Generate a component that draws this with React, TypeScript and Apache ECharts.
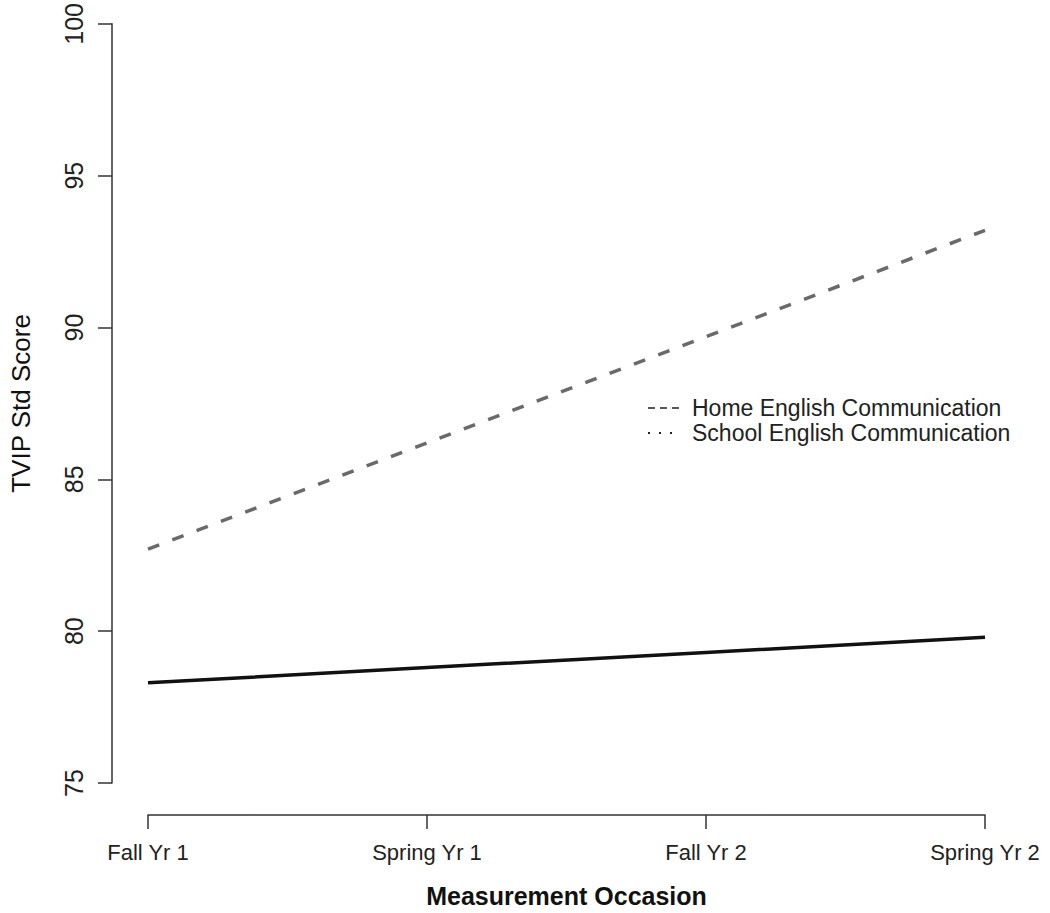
import React, { useEffect, useRef } from "react";
import * as echarts from "echarts";

const occasions = ["Fall Yr 1", "Spring Yr 1", "Fall Yr 2", "Spring Yr 2"];
const solidSeries = [78.3, 78.8, 79.3, 79.8];
const dashedSeries = [82.7, 86.2, 89.7, 93.2];
const legendLabels = ["Home English Communication", "School English Communication"];
const yTitle = "TVIP Std Score";
const xTitle = "Measurement Occasion";

export default function App() {
  const ref = useRef<HTMLDivElement>(null);
  useEffect(() => {
    if (!ref.current) return;
    const chart = echarts.init(ref.current, null, { renderer: "svg" });
    const font = "'Liberation Sans', Arial, Helvetica, sans-serif";
    chart.setOption({
      animation: false,
      backgroundColor: "#ffffff",
      textStyle: { fontFamily: font },
      grid: { left: 139, right: 65, top: 18, bottom: 128, containLabel: false },
      xAxis: {
        type: "category",
        data: occasions,
        boundaryGap: false,
        offset: 32,
        axisLine: { show: true, lineStyle: { color: "#333", width: 1.5 } },
        axisTick: { show: true, length: 14, alignWithLabel: true, lineStyle: { color: "#333", width: 1.5 } },
        axisLabel: { fontSize: 22, color: "#222", margin: 26, fontFamily: font },
        splitLine: { show: false },
        name: xTitle,
        nameLocation: "middle",
        nameGap: 68,
        nameTextStyle: { fontSize: 25, fontWeight: "bold", color: "#111", fontFamily: font },
      },
      yAxis: {
        type: "value",
        min: 75,
        max: 100,
        interval: 5,
        offset: 36,
        axisLine: { show: true, lineStyle: { color: "#333", width: 1.5 } },
        axisTick: { show: true, length: 14, lineStyle: { color: "#333", width: 1.5 } },
        axisLabel: { fontSize: 25, color: "#222", rotate: 90, margin: 26, fontFamily: font },
        splitLine: { show: false },
        name: yTitle,
        nameLocation: "middle",
        nameGap: 78,
        nameTextStyle: { fontSize: 26, color: "#111", fontFamily: font },
      },
      series: [
        {
          type: "line",
          data: solidSeries,
          symbol: "none",
          lineStyle: { color: "#111", width: 3.5, type: "solid" },
        },
        {
          type: "line",
          data: dashedSeries,
          symbol: "none",
          lineStyle: { color: "#6a6a6a", width: 3.5, type: [12, 14] },
        },
      ],
      graphic: [
        {
          type: "line",
          shape: { x1: 648, y1: 408, x2: 681, y2: 408 },
          style: { stroke: "#222", lineWidth: 1.5, lineDash: [7, 5] },
        },
        {
          type: "line",
          shape: { x1: 648, y1: 433, x2: 681, y2: 433 },
          style: { stroke: "#222", lineWidth: 2, lineDash: [2, 9] },
        },
        {
          type: "text",
          x: 692,
          y: 408,
          style: { text: legendLabels[0], fontSize: 23, fill: "#222", fontFamily: font, verticalAlign: "middle" },
        },
        {
          type: "text",
          x: 692,
          y: 433,
          style: { text: legendLabels[1], fontSize: 23, fill: "#222", fontFamily: font, verticalAlign: "middle" },
        },
      ],
    });
    return () => chart.dispose();
  }, []);
  return (
    <div
      ref={ref}
      style={{ position: "fixed", left: 0, top: 0, width: 1050, height: 913, background: "#fff" }}
    />
  );
}
